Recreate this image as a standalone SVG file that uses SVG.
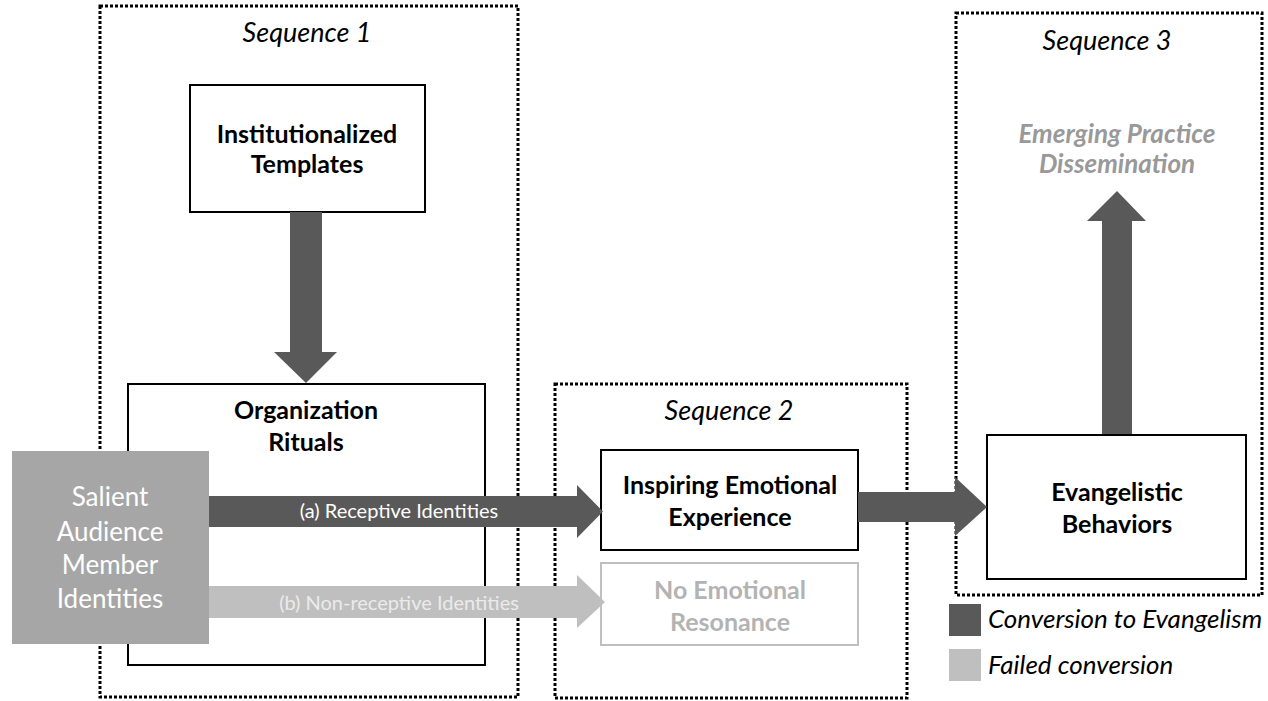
<svg xmlns="http://www.w3.org/2000/svg" width="1268" height="701" viewBox="0 0 1268 701">
<style>
.seq{fill:none;stroke:#000;stroke-width:3;stroke-dasharray:3 2}
.box{fill:#fff;stroke:#000;stroke-width:2}
.lbox{fill:#fff;stroke:#bfbfbf;stroke-width:2}
.dark{fill:#595959}
.light{fill:#bfbfbf}
.t{font-family:Lato,"Open Sans",sans-serif;text-anchor:middle}
.b{font-weight:bold;font-size:25px;fill:#000}
.it{font-style:italic;font-size:27px;fill:#000}
.lab{font-size:20px}
</style>
<rect width="1268" height="701" fill="#fff"/>
<g id="seq1"><rect class="seq" x="100" y="6" width="418" height="691"/><text class="t it" x="307" y="42">Sequence 1</text></g>
<g id="seq2"><rect class="seq" x="555" y="384" width="352" height="314"/><text class="t it" x="729" y="420">Sequence 2</text></g>
<g id="seq3"><rect class="seq" x="956" y="13" width="306" height="582"/><text class="t it" x="1107" y="50">Sequence 3</text></g>
<g id="institutionalized"><rect class="box" x="190" y="85" width="235" height="127"/><text class="t b" x="307" y="143">Institutionalized</text><text class="t b" x="307" y="173">Templates</text></g>
<g id="organization"><rect class="box" x="128" y="384" width="357" height="281"/><text class="t b" x="306" y="419">Organization</text><text class="t b" x="306" y="451">Rituals</text></g>
<g id="salient"><rect x="12" y="451" width="197" height="193" fill="#a6a6a6"/><g class="t" font-size="26" fill="#fff"><text x="110" y="506">Salient</text><text x="110" y="541">Audience</text><text x="110" y="574">Member</text><text x="110" y="608">Identities</text></g></g>
<g id="inspiring"><rect class="box" x="601" y="450" width="257" height="100"/><text class="t b" x="730" y="494">Inspiring Emotional</text><text class="t b" x="730" y="526">Experience</text></g>
<g id="noemotional"><rect class="lbox" x="601" y="563" width="257" height="82"/><text class="t b" x="730" y="599" style="fill:#b3b3b3">No Emotional</text><text class="t b" x="730" y="631" style="fill:#b3b3b3">Resonance</text></g>
<g id="evangelistic"><rect class="box" x="987" y="435" width="259" height="144"/><text class="t b" x="1117" y="501">Evangelistic</text><text class="t b" x="1117" y="533">Behaviors</text></g>
<g id="emerging"><text class="t b" x="1117" y="143" font-style="italic" style="fill:#999;font-size:26px">Emerging Practice</text><text class="t b" x="1117" y="173" font-style="italic" style="fill:#999;font-size:26px">Dissemination</text></g>
<g id="connectors">
<path class="dark" d="M290 212H322V352H337L306 383L274 352H290Z"/>
<path class="dark" d="M209 496H577V485L603 511.5L577 538V527H209Z"/>
<path class="light" d="M209 586H577V575L605 602L577 628V618H209Z"/>
<path class="dark" d="M858 492H955V477L987 507L955 536V522H858Z"/>
<path class="dark" d="M1102 434V221H1087L1117 191L1146 221H1132V434Z"/>
<text class="t lab" x="399" y="518" fill="#fff">(a) Receptive Identities</text>
<text class="t lab" x="399" y="610" fill="#ebebeb">(b) Non-receptive Identities</text>
</g>
<g id="legend">
<rect class="dark" x="949" y="604" width="32" height="32"/>
<rect class="light" x="949" y="649" width="32" height="32"/>
<g font-family="Lato,'Open Sans',sans-serif" font-style="italic" font-size="26"><text x="988" y="628">Conversion to Evangelism</text><text x="988" y="674">Failed conversion</text></g>
</g>
</svg>
